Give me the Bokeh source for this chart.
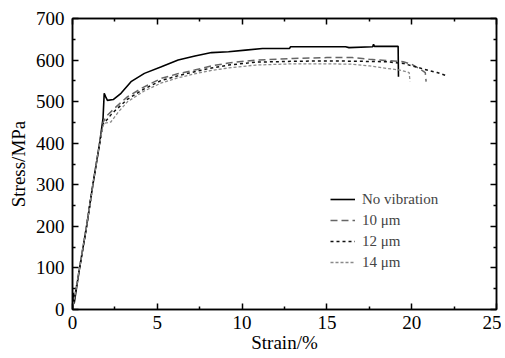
from bokeh.plotting import figure
from bokeh.models import (Range1d, LinearAxis, Legend, LegendItem, FixedTicker,
                          CustomLabelingPolicy)
from bokeh.embed import file_html
from bokeh.resources import INLINE

# Data
strain_nv = [0, 0.05, 0.1, 0.42, 0.83, 1.2, 1.6, 1.8, 1.87, 1.95, 2.06, 2.4, 2.86, 3.45, 4.24, 5.24, 6.23, 7.22, 8.2, 9.2, 10.2, 11.2, 12.8, 12.85, 14.5, 16.1, 16.3, 17.7, 17.75, 17.8, 19.15, 19.2, 19.22]
stress_nv = [0, 40, 15, 100, 200, 300, 400, 460, 520, 512, 503, 505, 520, 548, 568, 584, 600, 610, 618, 620, 624, 628, 628, 632, 632, 632, 630, 632, 638, 633, 633, 633, 560]

strain_10 = [0, 0.42, 0.83, 1.2, 1.6, 1.8, 2.0, 2.5, 3.25, 4.2, 5.24, 6.2, 7.2, 8.2, 9.2, 10.8, 13.0, 15.0, 16.5, 17.5, 18.5, 19.5, 20.0, 20.5, 20.8, 20.85]
stress_10 = [0, 100, 200, 300, 400, 450, 465, 485, 512, 535, 556, 567, 576, 586, 593, 600, 604, 606, 606, 602, 599, 596, 590, 578, 570, 548]

strain_12 = [0, 0.42, 0.83, 1.2, 1.6, 1.8, 2.0, 2.3, 2.5, 3.25, 4.2, 5.24, 6.2, 7.2, 8.2, 9.2, 10.8, 13.0, 15.0, 17.0, 18.5, 19.5, 20.3, 21.0, 21.5, 22.0]
stress_12 = [0, 100, 200, 300, 400, 445, 455, 470, 478, 506, 530, 551, 562, 572, 581, 588, 595, 597, 598, 597, 596, 592, 583, 575, 570, 563]

strain_14 = [0, 0.42, 0.83, 1.2, 1.6, 1.8, 1.85, 2.26, 2.7, 3.25, 4.2, 5.24, 6.2, 7.2, 8.2, 9.2, 10.8, 13.0, 15.0, 16.5, 17.5, 18.5, 19.3, 19.85, 19.9]
stress_14 = [0, 100, 200, 300, 400, 440, 448, 451, 475, 500, 525, 545, 557, 567, 575, 581, 588, 591, 591, 590, 586, 580, 576, 570, 549]

x_ticks = [0, 5, 10, 15, 20, 25]
x_minor = [2.5, 7.5, 12.5, 17.5, 22.5]
y_ticks = [0, 100, 200, 300, 400, 500, 600, 700]
y_minor = [50, 150, 250, 350, 450, 550, 650]
labels = ["No vibration", "10 \u03bcm", "12 \u03bcm", "14 \u03bcm"]

FONT = "Liberation Serif"
AXFONT = "serif"

p = figure(width=501, height=356, output_backend="svg", toolbar_location=None,
           x_range=Range1d(0, 25), y_range=Range1d(0, 700),
           min_border_left=72, min_border_right=5, min_border_top=18, min_border_bottom=47)
p.grid.visible = False
p.outline_line_color = "black"
p.outline_line_width = 1.5
p.background_fill_color = "white"
p.border_fill_color = "white"

def style_axis(ax, size="19px"):
    ax.axis_line_width = 1.5
    ax.axis_line_color = "black"
    ax.major_tick_in = 6
    ax.major_tick_out = 0
    ax.minor_tick_in = 3
    ax.minor_tick_out = 0
    ax.major_tick_line_width = 1.5
    ax.minor_tick_line_width = 1.5
    ax.major_label_text_font = AXFONT
    ax.major_label_text_font_size = size
    ax.major_label_text_color = "black"
    ax.axis_label_text_font = AXFONT
    ax.axis_label_text_font_size = "19px"
    ax.axis_label_text_font_style = "normal"
    ax.axis_label_text_color = "black"

p.xaxis.ticker = FixedTicker(ticks=x_ticks, minor_ticks=x_minor)
p.yaxis.ticker = FixedTicker(ticks=y_ticks, minor_ticks=y_minor)
style_axis(p.xaxis[0])
style_axis(p.yaxis[0])
p.xaxis.axis_label = "Strain/%"
p.yaxis.axis_label = "Stress/MPa"
p.xaxis.major_label_standoff = 6
p.yaxis.major_label_standoff = 8
p.xaxis.axis_label_standoff = 0
p.yaxis.axis_label_standoff = 4

hide_code = "for (const i of [...indices]) indices.unset(i); return indices"

top = LinearAxis(ticker=FixedTicker(ticks=x_ticks, minor_ticks=x_minor))
style_axis(top, "1px")
top.major_label_policy = CustomLabelingPolicy(code=hide_code)
top.major_label_standoff = 0
right = LinearAxis(ticker=FixedTicker(ticks=y_ticks, minor_ticks=y_minor))
style_axis(right, "1px")
right.major_label_policy = CustomLabelingPolicy(code=hide_code)
right.major_label_standoff = 0
p.add_layout(top, "above")
p.add_layout(right, "right")

r0 = p.line(strain_nv, stress_nv, line_color="black", line_width=1.6)
r1 = p.line(strain_10, stress_10, line_color="#666666", line_width=1.5, line_dash="7 4")
r2 = p.line(strain_12, stress_12, line_color="#111111", line_width=1.5, line_dash="3 3")
r3 = p.line(strain_14, stress_14, line_color="#8a8a8a", line_width=1.3, line_dash="3 2")

legend = Legend(items=[LegendItem(label=l, renderers=[r]) for l, r in zip(labels, [r0, r1, r2, r3])],
                location=(258, 37), border_line_color=None, background_fill_alpha=0,
                padding=0, margin=0, spacing=1, glyph_width=25, glyph_height=20,
                label_standoff=7, label_text_font=FONT, label_text_font_size="15px",
                label_height=20)
p.add_layout(legend, "center")

open("out.html", "w").write(file_html(p, INLINE))
